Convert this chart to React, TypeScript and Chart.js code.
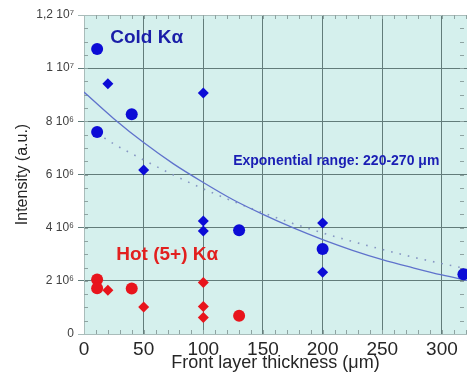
import { useEffect, useRef } from "react";
import { Chart, registerables } from "chart.js";

Chart.register(...registerables);

// Front layer thickness (µm) and Kα intensity (a.u.)
const coldCircleX = [11, 11, 40, 130, 200, 318];
const coldCircleY = [10.72e6, 7.6e6, 8.27e6, 3.9e6, 3.2e6, 2.25e6];
const coldDiamondX = [20, 50, 100, 100, 100, 200, 200];
const coldDiamondY = [9.41e6, 6.17e6, 9.07e6, 4.25e6, 3.87e6, 4.18e6, 2.32e6];
const hotCircleX = [11, 11, 40, 130];
const hotCircleY = [2.05e6, 1.72e6, 1.71e6, 0.69e6];
const hotDiamondX = [20, 50, 100, 100, 100];
const hotDiamondY = [1.65e6, 1.02e6, 1.94e6, 1.03e6, 0.62e6];

// Exponential fits
const fitSolidX = [0, 25, 50, 75, 100, 125, 150, 175, 200, 225, 250, 275, 300, 321];
const fitSolidY = [9.1e6, 8.1e6, 7.2e6, 6.4e6, 5.7e6, 5.05e6, 4.5e6, 4.0e6, 3.55e6, 3.15e6, 2.8e6, 2.5e6, 2.22e6, 2.02e6];
const fitDottedX = [11, 25, 50, 75, 100, 125, 150, 175, 200, 225, 250, 275, 300, 321];
const fitDottedY = [7.55e6, 7.15e6, 6.55e6, 5.98e6, 5.46e6, 4.99e6, 4.56e6, 4.16e6, 3.8e6, 3.48e6, 3.18e6, 2.9e6, 2.65e6, 2.45e6];

const intensityTickLabels = ["0", "2 10⁶", "4 10⁶", "6 10⁶", "8 10⁶", "1 10⁷", "1,2 10⁷"];

const X_MAX = 321;
const Y_MAX = 1.2e7;

const BLUE = "#0c0cd6";
const RED = "#e8141c";
const FONT = "'Liberation Sans', Arial, Helvetica, sans-serif";

const pts = (xs: number[], ys: number[]) => xs.map((x, i) => ({ x, y: ys[i] }));

const plotBackground = {
  id: "plotBackground",
  beforeDraw(chart: any) {
    const { ctx, chartArea: a } = chart;
    ctx.save();
    ctx.fillStyle = "#d5f0ed";
    ctx.fillRect(a.left, a.top, a.right - a.left, a.bottom - a.top);
    ctx.restore();
  },
};

const minorTicks = {
  id: "minorTicks",
  beforeDatasetsDraw(chart: any) {
    const { ctx, chartArea: a, scales } = chart;
    const xs = scales.x;
    const ys = scales.y;
    ctx.save();
    ctx.strokeStyle = "#8ea3a1";
    ctx.lineWidth = 1;
    ctx.beginPath();
    for (let v = 10; v < X_MAX; v += 10) {
      const px = Math.round(xs.getPixelForValue(v)) + 0.5;
      ctx.moveTo(px, a.bottom);
      ctx.lineTo(px, a.bottom - 4);
      ctx.moveTo(px, a.top);
      ctx.lineTo(px, a.top + 4);
    }
    for (let v = 0.5e6; v < Y_MAX; v += 0.5e6) {
      const py = Math.round(ys.getPixelForValue(v)) + 0.5;
      ctx.moveTo(a.left, py);
      ctx.lineTo(a.left + 4, py);
      ctx.moveTo(a.right - 3, py);
      ctx.lineTo(a.right - 7, py);
    }
    ctx.stroke();
    ctx.restore();
  },
};

const plotLabels = {
  id: "plotLabels",
  afterDatasetsDraw(chart: any) {
    const { ctx, scales } = chart;
    const put = (text: string, x: number, y: number, font: string, color: string) => {
      ctx.font = font;
      ctx.fillStyle = color;
      ctx.textAlign = "left";
      ctx.textBaseline = "middle";
      ctx.fillText(text, scales.x.getPixelForValue(x), scales.y.getPixelForValue(y));
    };
    ctx.save();
    put("Cold Kα", 22, 11.13e6, `bold 19px ${FONT}`, "#1a1ea8");
    put("Hot (5+) Kα", 27, 2.97e6, `bold 19px ${FONT}`, "#e2201f");
    put("Exponential range: 220-270 μm", 125, 6.5e6, `bold 14px ${FONT}`, "#1a1eb4");
    ctx.restore();
  },
};

export default function App() {
  const canvasRef = useRef<HTMLCanvasElement | null>(null);

  useEffect(() => {
    const canvas = canvasRef.current;
    if (!canvas) return;

    const gridColor = (ctx: any) => {
      const v = ctx.tick ? ctx.tick.value : null;
      if (v === 0 || v === Y_MAX) return "#a9bcba";
      return "#627c7a";
    };

    const chart = new Chart(canvas, {
      type: "scatter",
      data: {
        datasets: [
          {
            label: "fit",
            data: pts(fitSolidX, fitSolidY),
            showLine: true,
            borderColor: "#5f72cc",
            borderWidth: 1.3,
            pointRadius: 0,
            cubicInterpolationMode: "monotone",
            order: 5,
          },
          {
            label: "fit dotted",
            data: pts(fitDottedX, fitDottedY),
            showLine: true,
            borderColor: "#8797c4",
            borderWidth: 1.6,
            borderDash: [1.6, 7],
            pointRadius: 0,
            cubicInterpolationMode: "monotone",
            order: 6,
          },
          {
            label: "Cold Kα circles",
            data: pts(coldCircleX, coldCircleY),
            pointStyle: "circle",
            pointRadius: 6,
            backgroundColor: BLUE,
            borderColor: BLUE,
            borderWidth: 0,
            clip: false,
          },
          {
            label: "Cold Kα diamonds",
            data: pts(coldDiamondX, coldDiamondY),
            pointStyle: "rectRot",
            pointRadius: 5.5,
            backgroundColor: BLUE,
            borderColor: BLUE,
            borderWidth: 0,
          },
          {
            label: "Hot Kα circles",
            data: pts(hotCircleX, hotCircleY),
            pointStyle: "circle",
            pointRadius: 6,
            backgroundColor: RED,
            borderColor: RED,
            borderWidth: 0,
          },
          {
            label: "Hot Kα diamonds",
            data: pts(hotDiamondX, hotDiamondY),
            pointStyle: "rectRot",
            pointRadius: 5.5,
            backgroundColor: RED,
            borderColor: RED,
            borderWidth: 0,
          },
        ],
      },
      options: {
        responsive: false,
        animation: false,
        devicePixelRatio: 1,
        layout: { autoPadding: false, padding: { top: 15, right: 0, left: 0, bottom: 0 } },
        plugins: {
          legend: { display: false },
          tooltip: { enabled: false },
        },
        scales: {
          x: {
            type: "linear",
            min: 0,
            max: X_MAX,
            afterFit: (s: any) => {
              s.height = 42;
              s.paddingLeft = 0;
              s.paddingRight = 0;
            },
            ticks: {
              stepSize: 50,
              includeBounds: false,
              padding: 4,
              color: "#262626",
              font: { family: FONT, size: 19 },
            },
            grid: { color: gridColor, lineWidth: 1, drawTicks: false },
            border: { display: true, color: "#a9bcba" },
            title: {
              display: true,
              text: "Front layer thickness (μm)",
              color: "#262626",
              font: { family: FONT, size: 18, lineHeight: 1.4 },
              padding: 0,
            },
          },
          y: {
            type: "linear",
            min: 0,
            max: Y_MAX,
            afterFit: (s: any) => {
              s.width = 84;
            },
            ticks: {
              stepSize: 2e6,
              padding: 4,
              color: "#404040",
              font: { family: FONT, size: 12 },
              callback: (v: any) => intensityTickLabels[Math.round(Number(v) / 2e6)] ?? "",
            },
            grid: { color: gridColor, lineWidth: 1, tickLength: 6, drawTicks: true },
            border: { display: true, color: "#a9bcba" },
            title: {
              display: true,
              text: "Intensity (a.u.)",
              color: "#262626",
              font: { family: FONT, size: 16, lineHeight: 2.8 },
              padding: 0,
            },
          },
        },
      },
      plugins: [plotBackground, minorTicks, plotLabels],
    } as any);

    return () => chart.destroy();
  }, []);

  return (
    <div style={{ position: "fixed", left: 0, top: 0, width: 467, height: 376, background: "#fff" }}>
      <canvas ref={canvasRef} width={467} height={376} style={{ display: "block" }} />
    </div>
  );
}
